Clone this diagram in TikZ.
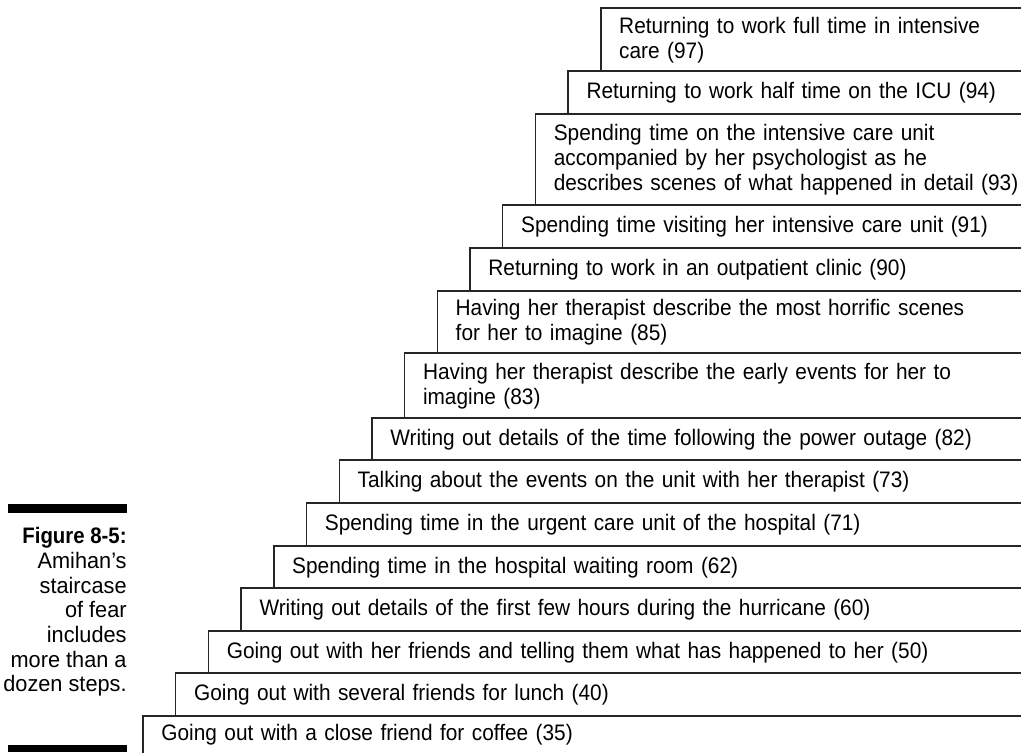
\documentclass[tikz,border=0pt]{standalone}
\usepackage{fontspec}
\setmainfont{Liberation Sans}
\newfontfamily\stepfont[FakeStretch=0.93]{Liberation Sans}
\newfontfamily\capfont[FakeStretch=0.97]{Liberation Sans}
\newfontfamily\figfont[FakeStretch=0.91]{Liberation Sans}
\usetikzlibrary{calc}
\usetikzlibrary{positioning}

\tikzset{
  stepbox/.style={anchor=north west, inner xsep=9pt, inner ysep=0pt, align=left,
    font=\stepfont\fontsize{11.2pt}{12.5pt}\selectfont},
  stepline/.style={line width=0.7pt, color=black!85},
  capbar/.style={fill=black, draw=none}
}

\begin{document}
\begin{tikzpicture}[x=0.5pt,y=-0.5pt]
  \useasboundingbox (0,0) rectangle (1021,752);
  % the staircase, from the lowest step up
  \foreach \T/\B/\txt [count=\i from 0] in {
      716/752/{Going out with a close friend for coffee (35)},
      673/716/{Going out with several friends for lunch (40)},
      631/673/{Going out with her friends and telling them what has happened to her (50)},
      588/631/{Writing out details of the first few hours during the hurricane (60)},
      546/588/{Spending time in the hospital waiting room (62)},
      503/546/{Spending time in the urgent care unit of the hospital (71)},
      460/503/{Talking about the events on the unit with her therapist (73)},
      418/460/{Writing out details of the time following the power outage (82)},
      353/418/{Having her therapist describe the early events for her to\\imagine (83)},
      291/353/{Having her therapist describe the most horrific scenes\\for her to imagine (85)},
      248/291/{Returning to work in an outpatient clinic (90)},
      205/248/{Spending time visiting her intensive care unit (91)},
      114/205/{Spending time on the intensive care unit\\accompanied by her psychologist as he\\describes scenes of what happened in detail (93)},
      71/114/{Returning to work half time on the ICU (94)},
      8/71/{Returning to work full time in intensive\\care (97)}} {
    \pgfmathsetmacro\L{143+32.7*\i}
    \pgfmathsetmacro\w{(1021-\L)*0.5-9}
    \pgfmathsetmacro\h{(\B-\T)*0.5}
    \node[stepbox, text width=\w pt, minimum height=\h pt] (step\i) at (\L,\T) {\txt};
    \draw[stepline] (step\i.south west) |- (step\i.north east);
  }

  % caption
  \fill[capbar] (8,504) rectangle (127,513);
  \fill[capbar] (8,745) rectangle (127,752);
  \node[anchor=north east, align=right, inner sep=0pt,
    font=\capfont\fontsize{11.2pt}{12.35pt}\selectfont] (caption) at (127,527)
    {{\figfont\bfseries Figure 8-5:}\\Amihan’s\\staircase\\of fear\\includes\\more than a\\dozen steps.};
\end{tikzpicture}
\end{document}
